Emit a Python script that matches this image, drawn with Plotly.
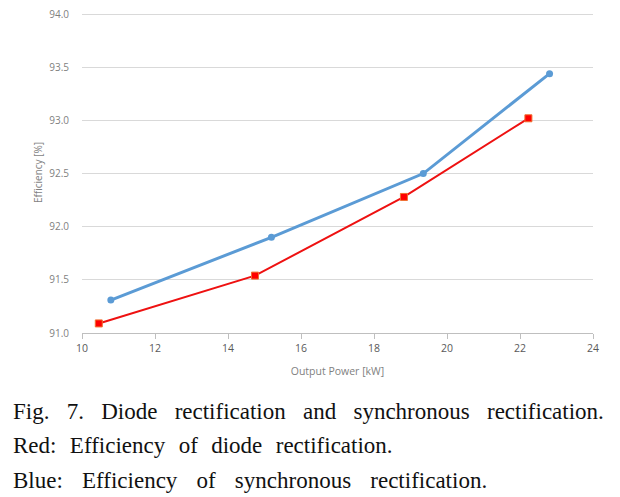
import plotly.graph_objects as go

# Data
diode_power = [10.46, 14.74, 18.82, 22.23]
diode_eff = [91.09, 91.54, 92.28, 93.02]
sync_power = [10.79, 15.19, 19.35, 22.81]
sync_eff = [91.31, 91.90, 92.50, 93.44]

x_ticks = [10, 12, 14, 16, 18, 20, 22, 24]
y_ticks = [91.0, 91.5, 92.0, 92.5, 93.0, 93.5, 94.0]

caption_lines = [
    "Fig. 7. Diode rectification and synchronous rectification.",
    "Red: Efficiency of diode rectification.",
    "Blue: Efficiency of synchronous rectification.",
]
NB = "\u00a0"
caption_gaps = [NB * 3, NB * 2 + "\u200a", NB * 3 + "\u200a"]
caption_y = [411, 445, 480]

W, H = 620, 497
PL, PR, PT, PB = 82, 593, 12, 333  # plot area in page pixels
ML, MT, MR, MB = PL, PT, W - PR, H - PB
PW, PH = PR - PL, PB - PT

fig = go.Figure()
fig.add_trace(go.Scatter(
    x=sync_power, y=sync_eff, mode="lines+markers",
    line=dict(color="#5b9bd5", width=3),
    marker=dict(symbol="circle", size=7, color="#5b9bd5"),
    name="Synchronous", showlegend=False))
fig.add_trace(go.Scatter(
    x=diode_power, y=diode_eff, mode="lines+markers",
    line=dict(color="#ee1111", width=2),
    marker=dict(symbol="square", size=7, color="#ff0000",
                line=dict(color="#f07030", width=1)),
    name="Diode", showlegend=False))

def sy(py):
    return (PB - py) / PH

def sx(px):
    return (px - PL) / PW

for line, gap, cy in zip(caption_lines, caption_gaps, caption_y):
    fig.add_annotation(
        text=gap.join(line.split(" ")), xref="paper", yref="paper",
        x=sx(11), y=sy(cy),
        xanchor="left", yanchor="middle", showarrow=False,
        font=dict(family="Liberation Serif", size=23, color="#111111"))

fig.update_layout(
    width=W, height=H,
    margin=dict(l=ML, r=MR, t=MT, b=MB, pad=0, autoexpand=False),
    paper_bgcolor="white", plot_bgcolor="white",
    font=dict(family="Open Sans", color="#7f7f7f"),
    xaxis=dict(
        range=[10, 24], tickvals=x_ticks, ticktext=[str(v) for v in x_ticks],
        automargin=False,
        showgrid=False, zeroline=False,
        showline=True, linecolor="#bfbfbf", linewidth=1,
        ticks="outside", ticklen=5, tickcolor="#bfbfbf",
        tickfont=dict(family="Open Sans", size=10.5, color="#595959"),
        title=dict(text="Output Power [kW]", standoff=14,
                   font=dict(family="Open Sans", size=10.5, color="#7f7f7f")),
    ),
    yaxis=dict(
        range=[91, 94.02], tickvals=y_ticks,
        ticktext=[f"{v:.1f}" for v in y_ticks],
        automargin=False,
        showgrid=True, gridcolor="#d9d9d9", gridwidth=1,
        zeroline=False, showline=False, ticks="",
        ticklabelstandoff=12,
        tickfont=dict(family="Open Sans", size=10, color="#7f7f7f"),
        title=dict(text="Efficiency [%]", standoff=4,
                   font=dict(family="Open Sans", size=10, color="#7f7f7f")),
    ),
)

fig.write_html(
    "out.html",
    config={"displayModeBar": False},
    post_script="document.body.style.margin='0px';"
                "document.body.style.overflow='hidden';",
)
